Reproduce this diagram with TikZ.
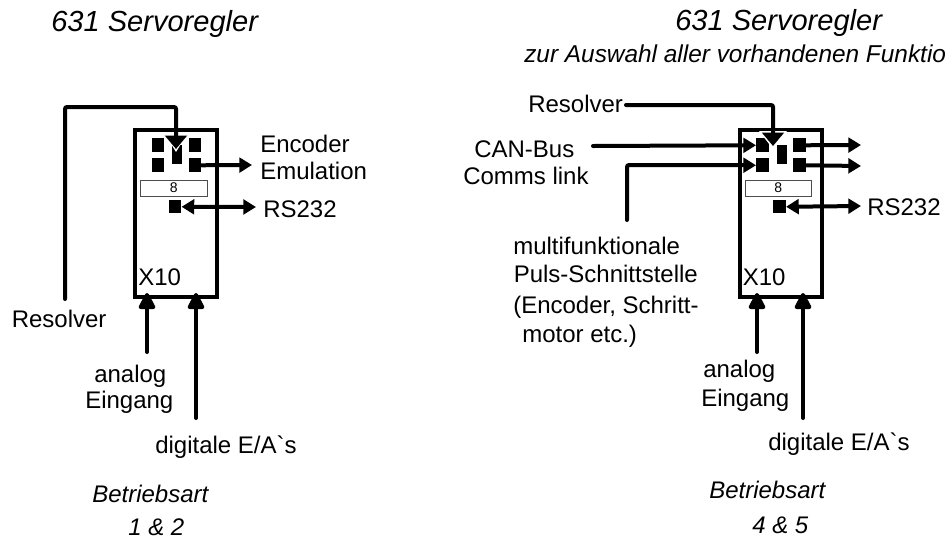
\documentclass[tikz,border=0pt]{standalone}
\usepackage{fontspec}
\setmainfont{Liberation Sans}
\newfontfamily\plainfont{Liberation Sans}
\usetikzlibrary{arrows.meta}
\tikzset{
  x=0.75pt,y=-0.75pt,
  lbl/.style={inner sep=0pt,font=\fontsize{18}{20}\selectfont,anchor=base west},
  ttl/.style={inner sep=0pt,font=\fontsize{21.8}{24}\selectfont\itshape,anchor=base west},
  sub/.style={inner sep=0pt,font=\fontsize{18.3}{20}\selectfont\itshape,anchor=base west},
  ital/.style={inner sep=0pt,font=\fontsize{18}{20}\selectfont\itshape,anchor=base west},
  housing/.style={draw=black,line width=3.2pt,inner sep=0pt},
  pin/.style={fill=black,draw=none,inner sep=0pt},
  wire/.style={draw=black,line width=3pt,line cap=round,rounded corners=1.5pt},
  headv/.style={wire,-{Triangle[length=14pt,width=13.5pt,round]}},
  heads/.style={wire,-{Triangle[length=9.5pt,width=11pt]}},
  headb/.style={wire,{Triangle[length=9.5pt,width=11pt]}-{Triangle[length=9.5pt,width=11pt]}},
  headd/.style={wire,-{Triangle[length=10pt,width=16pt]}},
  numbox/.style={draw=black!70,line width=0.6pt,fill=white,inner sep=0pt,font=\fontsize{10.5}{11}\selectfont}
}
\newcommand{\servo}[2]{%
  \node[housing,minimum width=61.5pt,minimum height=125.25pt,anchor=north west] (#1box) at (#2,128) {};
  \node[pin,minimum width=9.4pt,minimum height=10.5pt,anchor=north west] (#1a) at (#2+18.5,138) {};
  \node[pin,minimum width=9.4pt,minimum height=10.5pt,anchor=north west] (#1b) at (#2+18.5,158) {};
  \node[pin,minimum width=9.4pt,minimum height=10.5pt,anchor=north west] (#1c) at (#2+55.5,138) {};
  \node[pin,minimum width=9.4pt,minimum height=10.5pt,anchor=north west] (#1d) at (#2+55.5,158) {};
  \node[pin,minimum width=7.5pt,minimum height=14.25pt,anchor=north west] (#1m) at (#2+39,145) {};
  \node[numbox,minimum width=50pt,minimum height=12.4pt,anchor=north west] (#1n) at (#2+7,179.5) {8};
  \node[pin,minimum width=9.4pt,minimum height=9.75pt,anchor=north west] (#1s) at (#2+35.5,200) {};
  \node[lbl] (#1x) at (#2+5,285) {X10};
}
\begin{document}
\begin{tikzpicture}
\useasboundingbox (0,0) rectangle (945,540);
\fill[white] (0,0) rectangle (945,540);
% ---- left
\node[ttl] (t1) at (51,31) {631 Servoregler};
\servo{L}{133}
\coordinate (Lres) at (65,299);
\coordinate (Lc1) at (65,107);
\coordinate (Lc2) at (176,107);
\coordinate (Ltip) at (176,149);
\coordinate (Lenc) at (252,165);
\coordinate (Lrs) at (256,207);
\coordinate (Lan) at (147,352);
\coordinate (Lantip) at (147,293);
\coordinate (Ldi) at (196,418);
\coordinate (Lditip) at (196,293);
\fill[white] (165,134) -- (187,134) -- (176,152) -- cycle;
\draw[headd] (Lres) -- (Lc1) -- (Lc2) -- (Ltip);
\draw[heads] (Ld.east) -- (Lenc);
\draw[headb] (Ls.east) -- (Lrs);
\draw[headv] (Lan) -- (Lantip);
\draw[headv] (Ldi) -- (Lditip);
\node[lbl] (l1) at (260,152) {Encoder};
\node[lbl] (l2) at (260,179) {Emulation};
\node[lbl] (l3) at (263,217) {RS232};
\node[lbl] (l4) at (11.5,327) {Resolver};
\node[lbl] (l5) at (94,382) {analog};
\node[lbl] (l6) at (85,408) {Eingang};
\node[lbl] (l7) at (155,453) {digitale E/A{\plainfont`}s};
\node[ital] (l8) at (92,502) {Betriebsart};
\node[ital] (l9) at (128,535) {1 \& 2};
% ---- right
\node[ttl] (t2) at (675,30) {631 Servoregler};
\node[sub] (t3) at (524,62) {zur Auswahl aller vorhandenen Funktio};
\servo{R}{737.5}
\coordinate (Rres) at (626,105);
\coordinate (Rbend) at (773,105);
\coordinate (Rtip) at (773,146);
\coordinate (Rcan) at (593,146);
\coordinate (Rp1) at (627,220);
\coordinate (Rp2) at (627,165);
\coordinate (Ro1) at (861,145);
\coordinate (Ro2) at (861,166);
\coordinate (Rrs) at (861,206);
\coordinate (Ran) at (757,352);
\coordinate (Rantip) at (757,293);
\coordinate (Rdi) at (803,418);
\coordinate (Rditip) at (803,293);
\fill[white] (759,131) -- (787,131) -- (773,149) -- cycle;
\draw[headd] (Rres) -- (Rbend) -- (Rtip);
\draw[heads] (Rcan) -- (Ra.west);
\draw[heads] (Rp1) -- (Rp2) -- (Rb.west);
\draw[heads] (Rc.east) -- (Ro1);
\draw[heads] (Rd.east) -- (Ro2);
\draw[headb] (Rs.east) -- (Rrs);
\draw[headv] (Ran) -- (Rantip);
\draw[headv] (Rdi) -- (Rditip);
\node[lbl] (r1) at (528,112) {Resolver};
\node[lbl] (r2) at (474,157) {CAN-Bus};
\node[lbl] (r3) at (463,184) {Comms link};
\node[lbl] (r4) at (513,254) {multifunktionale};
\node[lbl] (r5) at (513.5,282) {Puls-Schnittstelle};
\node[lbl] (r6) at (513,313) {(Encoder, Schritt-};
\node[lbl] (r7) at (522,342) {motor etc.)};
\node[lbl] (r8) at (867,215) {RS232};
\node[lbl] (r9) at (703,377) {analog};
\node[lbl] (r10) at (701,406) {Eingang};
\node[lbl] (r11) at (768,450) {digitale E/A{\plainfont`}s};
\node[ital] (r12) at (709,498) {Betriebsart};
\node[ital] (r13) at (752,533) {4 \& 5};
\end{tikzpicture}
\end{document}
